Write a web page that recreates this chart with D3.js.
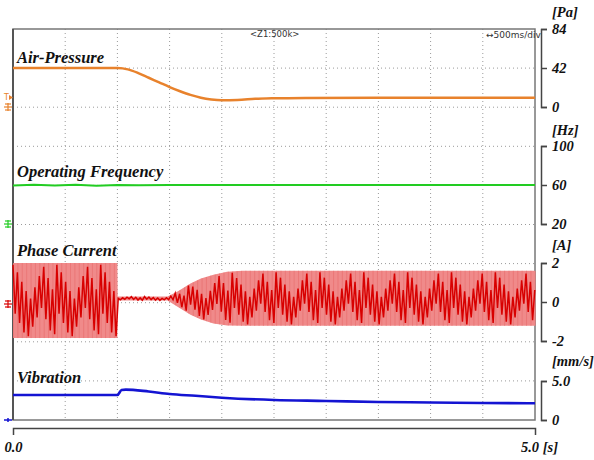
<!DOCTYPE html>
<html>
<head>
<meta charset="utf-8">
<script src="https://cdn.jsdelivr.net/npm/d3@7"></script>
<style>
  body { margin: 0; background: #fff; }
  svg { display: block; }
</style>
</head>
<body>
<div id="chart"></div>
<script>
// time axis
const timeTicks = [0, 5];

// Air pressure [Pa]
const pressureT = [0, 1.0, 1.05, 1.1, 1.2, 1.3, 1.4, 1.5, 1.6, 1.7, 1.8, 1.9, 2.0, 2.15, 2.32, 2.5, 2.8, 3.5, 5.0];
const pressureV = [42, 42, 41.6, 40.5, 36.5, 31.5, 26.5, 21.5, 17, 13, 10, 8.2, 7.4, 7.6, 8.8, 9.4, 9.8, 10, 10];

// Operating frequency [Hz]
const freqT = [0, 0.2, 0.4, 0.6, 0.8, 1.0, 1.2, 1.5, 2.0, 2.5, 3.0, 3.5, 4.0, 4.5, 5.0];
const freqV = [59.4, 60.3, 59.5, 60.2, 59.3, 60.1, 59.7, 60.1, 59.9, 60.1, 59.9, 60.0, 60.1, 59.9, 60.0];

// Phase current [A] envelope
const curT  = [0, 1.0, 1.003, 1.48, 1.58, 1.7, 1.8, 1.92, 2.05, 2.2, 5.0];
const curHi = [2.0, 2.0, 0.28, 0.28, 0.55, 0.95, 1.2, 1.4, 1.55, 1.6, 1.6];
const curLo = [-1.85, -1.85, 0.08, 0.08, -0.25, -0.65, -0.9, -1.1, -1.2, -1.22, -1.22];
// relative positions of the visible (aliased) trace peaks inside the envelope
const curPattern = [0.95, -0.35, 0.75, -0.6, 0.5, -0.85, 0.25, -0.95, 0.05, -0.7,
                    0.35, -0.45, 0.65, -0.2, 0.9, -0.5, 0.6, -0.8, 0.3, -0.9];
const curStep = 0.021;

// Vibration [mm/s]
const vibT = [0, 1.0, 1.04, 1.08, 1.3, 1.5, 1.75, 2.0, 2.5, 3.0, 3.5, 4.0, 4.5, 5.0];
const vibV = [3.2, 3.2, 3.85, 3.9, 3.65, 3.33, 3.1, 2.86, 2.56, 2.44, 2.3, 2.25, 2.18, 2.14];

// right axes
const paTicks = [0, 42, 84];
const hzTicks = [20, 60, 100];
const aTicks = [-2, 0, 2];
const vibTicks = [0, 5];

const W = 594, H = 460;
const plot = {left: 13, right: 535, top: 29, bottom: 420};
const serif = '"Liberation Serif", "Times New Roman", Times, serif';

const svg = d3.select("#chart").append("svg")
    .attr("width", W)
    .attr("height", H);

const x = d3.scaleLinear().domain([0, 5]).range([plot.left, plot.right]);
const yPa = d3.scaleLinear().domain([0, 84]).range([107, 29]);
const yHz = d3.scaleLinear().domain([20, 100]).range([224, 146]);
const yA = d3.scaleLinear().domain([-2, 2]).range([341, 263]);
const yV = d3.scaleLinear().domain([0, 5]).range([420, 381]);

function serifText(sel, size) {
    sel.style("font-family", serif)
        .style("font-weight", "bold")
        .style("font-style", "italic")
        .style("font-size", size + "px")
        .attr("fill", "#111");
}

// grid
const grid = svg.append("g")
    .attr("stroke", "#9a9a9a")
    .attr("stroke-width", 1)
    .attr("stroke-dasharray", "1,3");
const gx = d3.scaleLinear().domain([0, 10]).range([plot.left, plot.right]);
const gy = d3.scaleLinear().domain([0, 10]).range([plot.top, plot.bottom]);
d3.range(1, 10).forEach(i => {
    grid.append("line").attr("x1", gx(i)).attr("x2", gx(i))
        .attr("y1", plot.top).attr("y2", plot.bottom);
    grid.append("line").attr("x1", plot.left).attr("x2", plot.right)
        .attr("y1", gy(i)).attr("y2", gy(i));
});

// frame
svg.append("rect")
    .attr("x", plot.left).attr("y", plot.top)
    .attr("width", plot.right - plot.left).attr("height", plot.bottom - plot.top)
    .attr("fill", "none").attr("stroke", "#777").attr("stroke-width", 1.5);
svg.append("line")
    .attr("x1", plot.left).attr("x2", plot.left)
    .attr("y1", plot.top).attr("y2", plot.bottom)
    .attr("stroke", "#555").attr("stroke-width", 2);

// top notes
svg.append("text").attr("x", 250).attr("y", 37)
    .attr("font-family", "DejaVu Sans, sans-serif").attr("font-size", 8.5)
    .attr("fill", "#333").text("<Z1:500k>");
svg.append("text").attr("x", 486).attr("y", 38)
    .attr("font-family", "DejaVu Sans, sans-serif").attr("font-size", 9)
    .attr("fill", "#333").text("↔500ms/div");

// --- current
const curData = curT.map((t, i) => ({t: t, hi: curHi[i], lo: curLo[i]}));
svg.append("path")
    .datum(curData)
    .attr("fill", "#f08a8a")
    .attr("d", d3.area().x(d => x(d.t)).y0(d => yA(d.lo)).y1(d => yA(d.hi)));

const hiAt = d3.scaleLinear().domain(curT).range(curHi);
const loAt = d3.scaleLinear().domain(curT).range(curLo);
const trace = d3.range(0, 5 + 1e-9, curStep).map((t, i) => {
    const mid = (hiAt(t) + loAt(t)) / 2, half = (hiAt(t) - loAt(t)) / 2;
    return {t: t, v: mid + curPattern[i % curPattern.length] * half, mid: mid, half: half};
});
// faint stripes in the fill
svg.append("g").attr("stroke", "#e87070").attr("stroke-width", 0.7)
    .selectAll("line").data(trace.filter((d, i) => d.half > 0.3 && i % 2 === 0)).join("line")
    .attr("x1", d => x(d.t) + 0.5).attr("x2", d => x(d.t) + 0.5)
    .attr("y1", d => yA(d.mid + d.half)).attr("y2", d => yA(d.mid - d.half));
svg.append("path")
    .datum(trace)
    .attr("fill", "none")
    .attr("stroke", "#d80000")
    .attr("stroke-width", 1.5)
    .attr("d", d3.line().x(d => x(d.t)).y(d => yA(d.v)));

// --- air pressure
svg.append("path")
    .datum(pressureT.map((t, i) => [t, pressureV[i]]))
    .attr("fill", "none").attr("stroke", "#e8822c").attr("stroke-width", 2.5)
    .attr("d", d3.line().curve(d3.curveMonotoneX).x(d => x(d[0])).y(d => yPa(d[1])));

// --- frequency
svg.append("path")
    .datum(freqT.map((t, i) => [t, freqV[i]]))
    .attr("fill", "none").attr("stroke", "#22cc22").attr("stroke-width", 2)
    .attr("d", d3.line().x(d => x(d[0])).y(d => yHz(d[1])));

// --- vibration
svg.append("path")
    .datum(vibT.map((t, i) => [t, vibV[i]]))
    .attr("fill", "none").attr("stroke", "#1414d2").attr("stroke-width", 2.6)
    .attr("d", d3.line().curve(d3.curveMonotoneX).x(d => x(d[0])).y(d => yV(d[1])));

// signal names
const names = [
    {text: "Air-Pressure", y: 63},
    {text: "Operating Frequency", y: 177},
    {text: "Phase Current", y: 256},
    {text: "Vibration", y: 383}
];
svg.selectAll("text.name").data(names).join("text")
    .attr("class", "name")
    .attr("x", 17).attr("y", d => d.y)
    .text(d => d.text)
    .call(serifText, 16.5);

// left channel markers
function ground(g, y, color) {
    const m = g.append("g").attr("stroke", color).attr("stroke-width", 1.2);
    m.append("line").attr("x1", 4).attr("x2", 12).attr("y1", y).attr("y2", y);
    m.append("line").attr("x1", 8).attr("x2", 8).attr("y1", y - 4).attr("y2", y + 4);
    m.append("line").attr("x1", 5).attr("x2", 11).attr("y1", y - 3).attr("y2", y - 3);
    m.append("line").attr("x1", 5).attr("x2", 11).attr("y1", y + 3).attr("y2", y + 3);
}
ground(svg, yPa(0), "#e8822c");
svg.append("text").attr("x", 4).attr("y", 100).attr("font-size", 8)
    .attr("font-family", "DejaVu Sans, sans-serif").attr("fill", "#e8822c").text("T");
svg.append("path").attr("d", "M9,95 L13,97.5 L9,100 Z").attr("fill", "#e8822c");
ground(svg, 224, "#22cc22");
ground(svg, 304, "#d80000");
svg.append("path").attr("d", "M4,420 L12,420 M8,418 L8,422")
    .attr("stroke", "#1414d2").attr("stroke-width", 1.5);

// right axes (bracket style)
const axes = [
    {scale: yPa, ticks: paTicks, unit: "[Pa]", unitY: 17, fmt: d3.format("d")},
    {scale: yHz, ticks: hzTicks, unit: "[Hz]", unitY: 135, fmt: d3.format("d")},
    {scale: yA, ticks: aTicks, unit: "[A]", unitY: 250, fmt: d => d < 0 ? "-" + Math.abs(d) : String(d)},
    {scale: yV, ticks: vibTicks, unit: "[mm/s]", unitY: 366, fmt: d => d === 0 ? "0" : d3.format(".1f")(d)}
];
axes.forEach(a => {
    const g = svg.append("g")
        .attr("transform", "translate(541,0)")
        .call(d3.axisRight(a.scale).tickValues(a.ticks).tickFormat(a.fmt)
            .tickSizeInner(6).tickSizeOuter(6).tickPadding(5));
    g.selectAll("path, line").attr("stroke", "#444").attr("stroke-width", 1.5);
    g.selectAll("text").call(serifText, 14.5);
    svg.append("text").attr("x", 552).attr("y", a.unitY)
        .text(a.unit).call(serifText, 14.5);
});

// bottom time axis
const xg = svg.append("g")
    .attr("transform", "translate(0,428)")
    .call(d3.axisBottom(x).tickValues(timeTicks)
        .tickFormat(d => d === 0 ? "0.0" : d3.format(".1f")(d) + " [s]")
        .tickSizeInner(0).tickSizeOuter(7).tickPadding(14));
xg.selectAll("path").attr("stroke", "#444").attr("stroke-width", 1.5);
xg.selectAll("text").call(serifText, 14.5);
xg.selectAll(".tick").filter(d => d === 5).select("text").attr("dx", 4);
</script>
</body>
</html>
